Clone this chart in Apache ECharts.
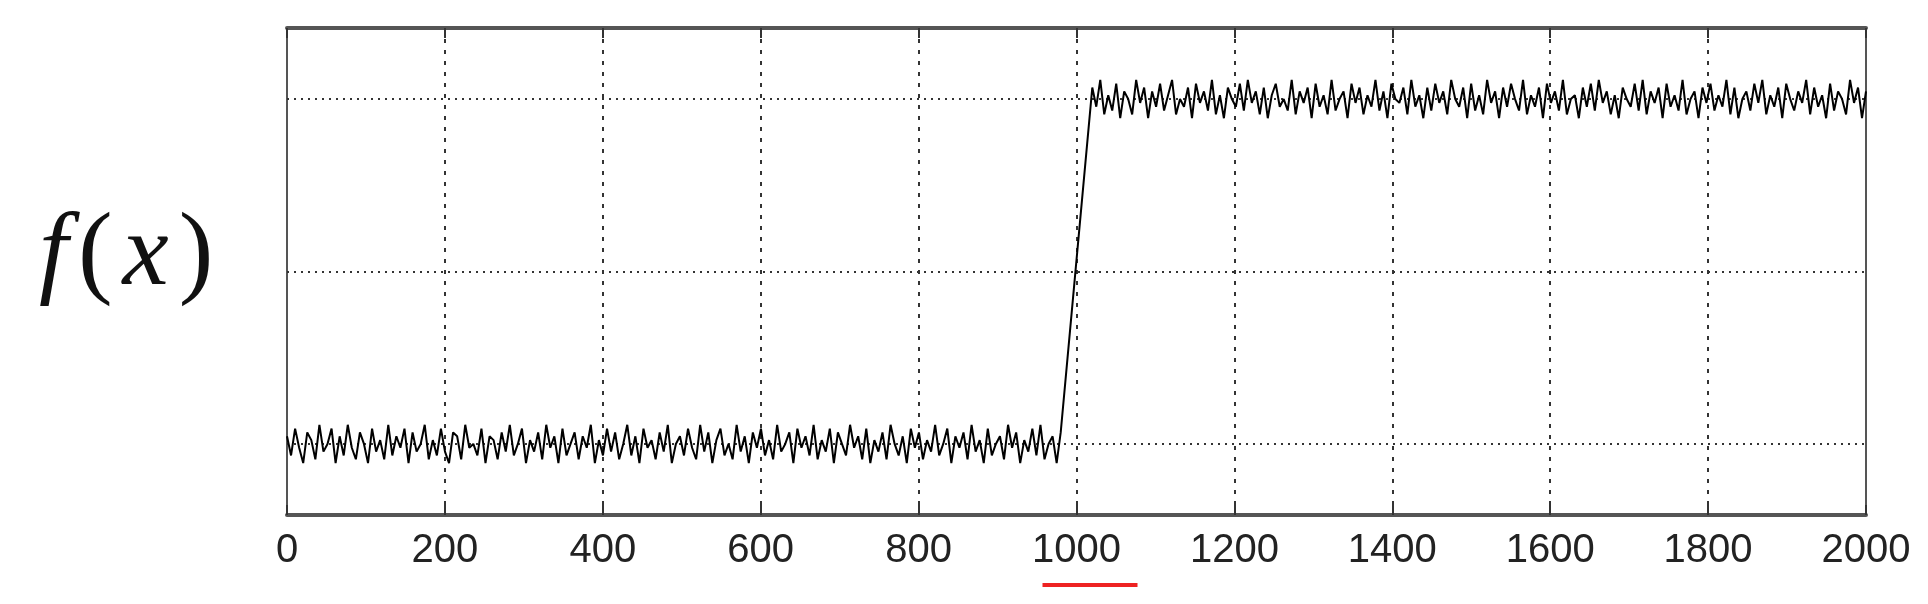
<!DOCTYPE html>
<html><head><meta charset="utf-8">
<script src="https://cdn.jsdelivr.net/npm/echarts@6/dist/echarts.min.js"></script>
<style>html,body{margin:0;padding:0;background:#fff}#c{width:1928px;height:604px}</style>
</head><body><div id="c"></div>
<script>
var xTicks = [0,200,400,600,800,1000,1200,1400,1600,1800,2000];
var levelLow = 0, levelHigh = 1;
var gridLevels = [0, 0.5, 1];
var lowRange = [0, 980];
var highRange = [1020, 2000];
// noise read as hundredths of the step height
var noiseLow = [2,-3,4,-1,-5,3,1,-4,5,-2,0,4,-5,2,-3,5,-1,-4,3,0,-5,4,-2,1,-4,5,-3,2,-1,4,-5,3,-2,0,5,-4,1,-3,4,-2,-5,3,2,-4,5,-1,0,-3,4,-5,2,1,-4,3,-2,5,-3,0,4,-5,1,-2,3,-4,5,-1,2,-5,4,-3,0,3,-4,2,-1,5,-5,1,-3,4,-2,3,-4,0,5,-3,2,-5,4,-1,1,-4,3,-2,5,-5,0,2,-3,4,-1,-4,5,-2,3,-5,1,4,-3,0,-4,5,-2,2,-5,3,-1,4,-3,1,-4,5,-2,0,3,-5,4,-1,2,-3,5,-4,1,-2,4,-5,3,0,-3,5,-1,2,-4,4,-5,1,-2,3,-4,5,0,-3,2,-5,4,-1,3,-4,1,-2,5,-3,0,4,-5,2,-1,3,-4,5,-2,1,-5,4,-3,0,2,-4,5,-1,3,-5,1,-2,4,-3,5,-4,0,2,-5,3];
var noiseHigh = [3,-2,5,-4,1,-3,4,-5,2,0,-4,5,-1,3,-5,2,-2,4,-3,1,5,-4,0,-2,3,-5,4,-1,2,-3,5,-4,1,-5,3,0,-2,4,-3,5,-1,2,-4,3,-5,1,4,-2,0,-3,5,-4,2,-1,3,-5,4,-2,1,-4,5,-3,0,2,-5,4,-1,3,-4,1,-2,5,-3,2,-5,4,0,-1,3,-4,5,-2,1,-5,3,-3,4,-1,2,-4,5,0,-2,3,-5,4,-3,1,-4,5,-1,2,-5,3,-2,4,0,-3,5,-4,1,-2,3,-5,4,-1,2,-3,5,-4,0,1,-5,3,-2,4,-3,5,-1,2,-4,1,-5,3,0,-2,4,-3,5,-4,2,-1,3,-5,4,-2,1,-3,5,-4,0,2,-5,3,-1,4,-3,1,-2,5,-4,3,-5,0,2,-3,4,-1,5,-4,1,-2,3,-5,4,0,-3,2,-1,5,-4,3,-2,1,-5,4,-3,2,0,-4,5,-1,3,-5,2];

var data = [];
noiseLow.forEach(function(n,i){
  data.push([lowRange[0] + i*(lowRange[1]-lowRange[0])/(noiseLow.length-1), levelLow + n/90]);
});
noiseHigh.forEach(function(n,i){
  data.push([highRange[0] + i*(highRange[1]-highRange[0])/(noiseHigh.length-1), levelHigh + n/90]);
});

var chart = echarts.init(document.getElementById('c'));
var axisBase = {
  type:'value', min:0, max:2000, interval:200,
  axisLine:{show:true, onZero:false, lineStyle:{color:'#555', width:4}},
  axisTick:{inside:true, length:10, lineStyle:{color:'#333', width:2}}
};
chart.setOption({
  animation:false,
  grid: {left:287, right:62, top:28, bottom:89},
  title: {
    text: '{i|f}{u|(}{i|x}{u|)}',
    left: 28, top: 200,
    textStyle: {rich: {
      i: {fontFamily:'Liberation Serif', fontStyle:'italic', fontWeight:'normal', fontSize:104, color:'#111', padding:[0,6,0,6]},
      u: {fontFamily:'Liberation Serif', fontWeight:'normal', fontSize:104, color:'#111', padding:[0,4,0,4]}
    }}
  },
  xAxis: [Object.assign({}, axisBase, {
    position:'bottom',
    axisLabel:{fontFamily:'Liberation Sans', fontSize:40, color:'#222', margin:16,
      formatter:function(v){return String(v);}},
    splitLine:{show:true, lineStyle:{color:'#333', type:[4,7], width:2}}
  }), Object.assign({}, axisBase, {
    position:'top', axisLabel:{show:false}, splitLine:{show:false}
  })],
  yAxis: [{
    type:'value', min:-0.206, max:1.206, position:'left',
    axisLine:{show:true, onZero:false, lineStyle:{color:'#555', width:2}},
    axisTick:{show:false}, axisLabel:{show:false}, splitLine:{show:false}
  },{
    type:'value', min:-0.206, max:1.206, position:'right',
    axisLine:{show:true, onZero:false, lineStyle:{color:'#555', width:2}},
    axisTick:{show:false}, axisLabel:{show:false}, splitLine:{show:false}
  }],
  series: [{
    type:'line', data:data, showSymbol:false, symbol:'none', z:5,
    lineStyle:{color:'#000', width:2},
    markLine:{
      silent:true, symbol:'none', label:{show:false}, z:1,
      lineStyle:{color:'#333', type:[2,5], width:2},
      data: gridLevels.map(function(v){return {yAxis:v};})
    }
  }]
});
var p0 = chart.convertToPixel({xAxisIndex:0}, 1000);
chart.setOption({graphic:[{type:'rect', shape:{x:p0-34, y:583, width:95, height:4}, style:{fill:'#ee2222'}}]});
</script></body></html>
